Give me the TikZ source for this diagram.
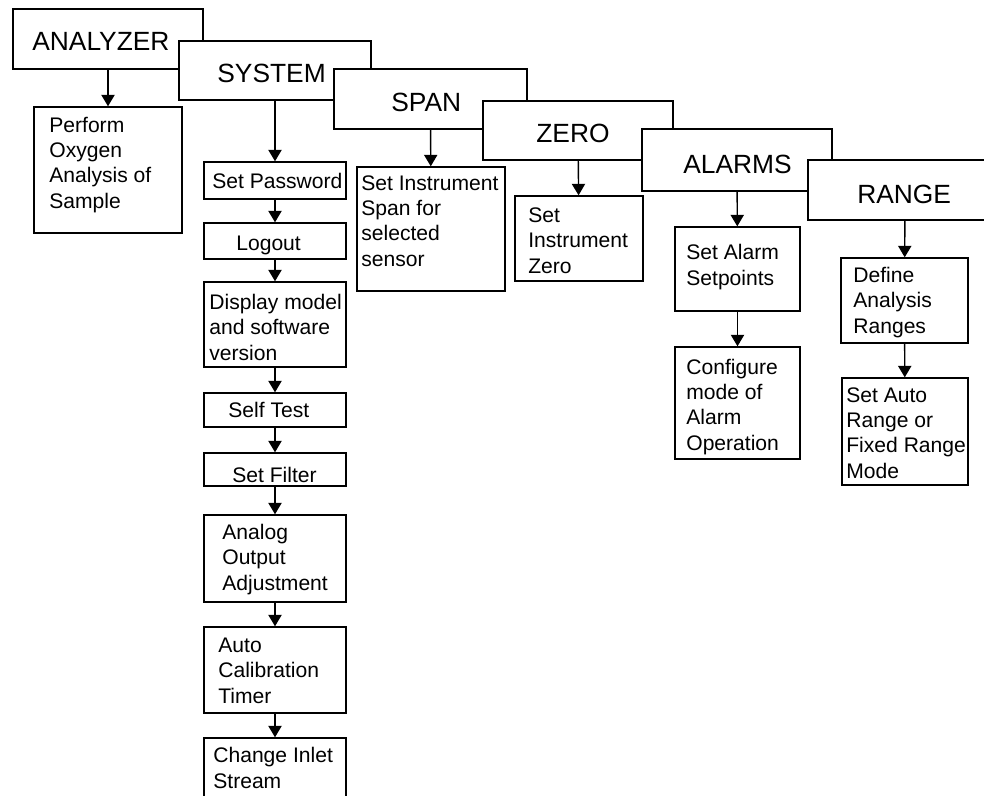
\documentclass[tikz,border=0pt]{standalone}
\usepackage{fontspec}
\setmainfont{Liberation Sans}
\usetikzlibrary{fit,arrows.meta}

\begin{document}
\begin{tikzpicture}[x=0.02cm,y=-0.02cm,
  box/.style={draw,fill=white,line width=0.8pt,inner sep=0pt},
  tab/.style={anchor=base west,inner sep=0pt,font=\fontsize{15}{18}\selectfont},
  txt/.style={anchor=base west,inner sep=0pt,align=left,font=\fontsize{12}{14.4}\selectfont},
  arr/.style={line width=0.8pt,-{Triangle[width=7.5pt,length=6.5pt]}}]
  \useasboundingbox (0,0) rectangle (984,795);
  \clip (0,0) rectangle (984,795);
  \node[box,fit={(13,9) (203,69)}] (analyzer) {};
  \node[tab] (analyzer-t) at (32,50) {ANALYZER};
  \node[box,fit={(179,41) (371,100)}] (system) {};
  \node[tab] (system-t) at (217,82) {SYSTEM};
  \node[box,fit={(334,69) (527,129)}] (span) {};
  \node[tab] (span-t) at (391,111) {SPAN};
  \node[box,fit={(483,101) (673,160)}] (zero) {};
  \node[tab] (zero-t) at (536,142) {ZERO};
  \node[box,fit={(642,129) (832,191)}] (alarms) {};
  \node[tab] (alarms-t) at (683,173) {ALARMS};
  \node[box,fit={(808,160) (1002,220)}] (range) {};
  \node[tab] (range-t) at (857,203) {RANGE};

  \node[box,fit={(34,107) (182,233)}] (perform) {};
  \node[txt] (perform-t) at (49,208) {Perform\\Oxygen\\Analysis of\\Sample};

  \node[box,fit={(204,162) (346,199)}] (password) {};
  \node[txt] (password-t) at (212,188) {Set Password};
  \node[box,fit={(204,223) (346,259)}] (logout) {};
  \node[txt] (logout-t) at (236,250) {Logout};
  \node[box,fit={(204,282) (346,367)}] (display) {};
  \node[txt] (display-t) at (209,360) {Display model\\and software\\version};
  \node[box,fit={(204,393) (346,427)}] (selftest) {};
  \node[txt] (selftest-t) at (228,417) {Self Test};
  \node[box,fit={(204,453) (346,486)}] (filter) {};
  \node[txt] (filter-t) at (232,482) {Set Filter};
  \node[box,fit={(204,515) (346,602)}] (analog) {};
  \node[txt] (analog-t) at (222,590) {Analog\\Output\\Adjustment};
  \node[box,fit={(204,627) (346,713)}] (autocal) {};
  \node[txt] (autocal-t) at (218,703) {Auto\\Calibration\\Timer};
  \node[box,fit={(204,738) (346,820)}] (inlet) {};
  \node[txt] (inlet-t) at (213,788) {Change Inlet\\Stream};

  \node[box,fit={(357,167) (505,291)}] (spanset) {};
  \node[txt] (spanset-t) at (361,266) {Set Instrument\\Span for\\selected\\sensor};

  \node[box,fit={(515,196) (643,281)}] (zeroset) {};
  \node[txt] (zeroset-t) at (528,273) {Set\\Instrument\\Zero};

  \node[box,fit={(675,227) (800,311)}] (setpoints) {};
  \node[txt] (setpoints-t) at (686,285) {Set Alarm\\Setpoints};
  \node[box,fit={(675,347) (800,459)}] (alarmmode) {};
  \node[txt] (alarmmode-t) at (686,450) {Configure\\mode of\\Alarm\\Operation};

  \node[box,fit={(841,258) (968,343)}] (ranges) {};
  \node[txt] (ranges-t) at (853,333) {Define\\Analysis\\Ranges};
  \node[box,fit={(842,378) (968,485)}] (rangemode) {};
  \node[txt] (rangemode-t) at (846,478) {Set Auto\\Range or\\Fixed Range\\Mode};

  \draw[arr] (analyzer) -- (perform);
  \draw[arr] (system) -- (password);
  \draw[arr] (password) -- (logout);
  \draw[arr] (logout) -- (display);
  \draw[arr] (display) -- (selftest);
  \draw[arr] (selftest) -- (filter);
  \draw[arr] (filter) -- (analog);
  \draw[arr] (analog) -- (autocal);
  \draw[arr] (autocal) -- (inlet);
  \draw[arr] (span) -- (spanset);
  \draw[arr] (zero) -- (zeroset);
  \draw[arr] (alarms) -- (setpoints);
  \draw[arr] (setpoints) -- (alarmmode);
  \draw[arr] (range) -- (ranges);
  \draw[arr] (ranges) -- (rangemode);
\end{tikzpicture}
\end{document}
